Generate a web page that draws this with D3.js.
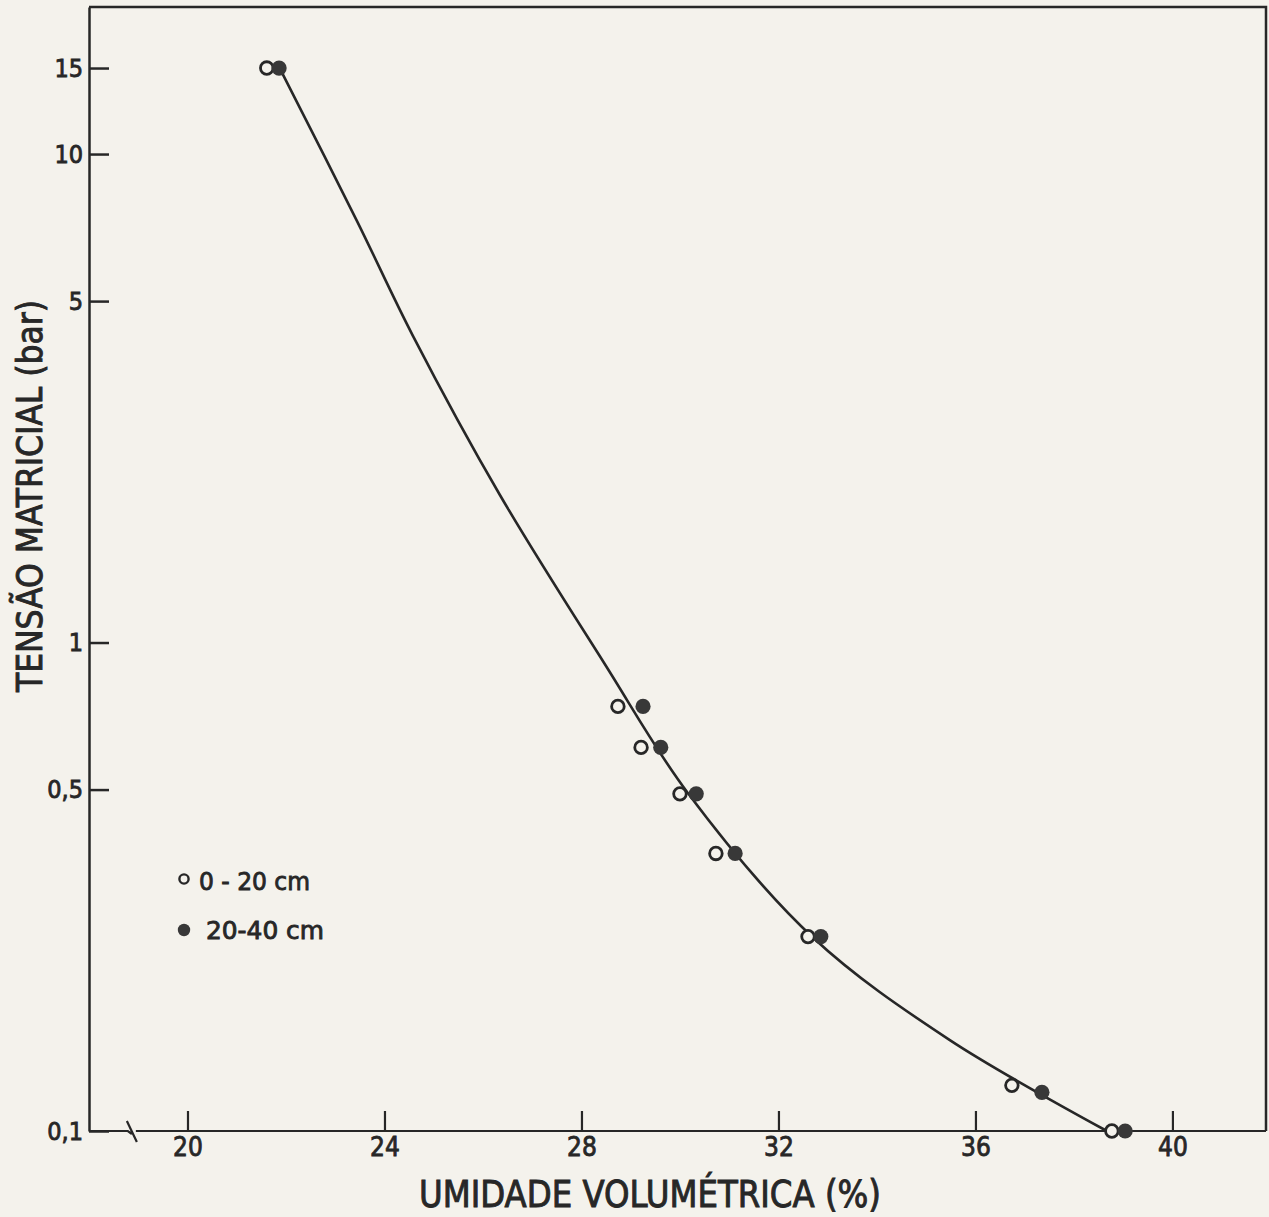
<!DOCTYPE html>
<html>
<head>
<meta charset="utf-8">
<script src="https://cdn.jsdelivr.net/npm/d3@7"></script>
<style>
  html, body { margin: 0; padding: 0; background: #f4f2ec; }
  svg { display: block; }
</style>
</head>
<body>
<div id="chart"></div>
<script>
// 0-20 cm (open circles)
const moisture020 = [21.61, 28.74, 29.21, 30.0, 30.73, 32.6, 36.74, 38.77];
const tension020 = [15, 0.74, 0.61, 0.49, 0.37, 0.25, 0.124, 0.1];
// 20-40 cm (filled circles)
const moisture2040 = [21.86, 29.25, 29.61, 30.33, 31.12, 32.86, 37.35, 39.04];
const tension2040 = [15, 0.74, 0.61, 0.49, 0.37, 0.25, 0.12, 0.1];
// hand-drawn curve
const curveMoisture = [21.9, 23.44, 24.58, 26.35, 28.46, 30.16, 32.7, 35.48, 38.67];
const curveTension = [14.8, 7.3, 4.24, 2.0, 0.908, 0.492, 0.249, 0.1535, 0.1];

const xTicks = [20, 24, 28, 32, 36, 40];
const yTicks = [15, 10, 5, 1, 0.5, 0.1];
const yTickLabels = ['15', '10', '5', '1', '0,5', '0,1'];
const seriesLabels = ['0 - 20 cm', '20-40 cm'];

const width = 1269;
const height = 1217;
const margin = { top: 7, right: 3, bottom: 86, left: 89 };
const ink = '#272727';
const paper = '#f4f2ec';
const font = '"DejaVu Sans Condensed", "DejaVu Sans", sans-serif';

const svg = d3.select('#chart')
  .append('svg')
  .attr('width', width)
  .attr('height', height)
  .attr('viewBox', `0 0 ${width} ${height}`);

svg.append('rect').attr('width', width).attr('height', height).attr('fill', paper);

const innerWidth = width - margin.left - margin.right;
const innerHeight = height - margin.top - margin.bottom;

const x = d3.scaleLinear().domain([18, 41.9]).range([0, innerWidth]);
const y = d3.scaleLog().domain([0.1, 20]).range([innerHeight, 0]);

const g = svg.append('g').attr('transform', `translate(${margin.left}, ${margin.top})`);

// frame top + right
g.append('path')
  .attr('d', `M0,0H${innerWidth}V${innerHeight}`)
  .attr('fill', 'none')
  .attr('stroke', ink)
  .attr('stroke-width', 2.5);

// x axis line with break
const bx = x(18.85);
g.append('path')
  .attr('d', `M0,${innerHeight}H${bx - 3}L${bx + 1},${innerHeight + 3}M${bx - 4},${innerHeight - 10}L${bx + 6},${innerHeight + 11}M${bx + 5},${innerHeight}H${innerWidth}`)
  .attr('fill', 'none')
  .attr('stroke', ink)
  .attr('stroke-width', 2.2);

const yAxis = g.append('g')
  .call(d3.axisLeft(y)
    .tickValues(yTicks)
    .tickFormat((d, i) => yTickLabels[i])
    .tickSizeInner(-20)
    .tickSizeOuter(0)
    .tickPadding(6));
yAxis.select('.domain').attr('stroke', ink).attr('stroke-width', 2.5);
yAxis.selectAll('line').attr('stroke', ink).attr('stroke-width', 2.5);
yAxis.selectAll('text')
  .attr('font-size', 25)
  .attr('font-family', font)
  .attr('fill', ink)
  .attr('stroke', ink)
  .attr('stroke-width', 0.8);

const xAxis = g.append('g')
  .attr('transform', `translate(0, ${innerHeight})`)
  .call(d3.axisBottom(x)
    .tickValues(xTicks)
    .tickSizeInner(-20)
    .tickSizeOuter(0)
    .tickPadding(7));
xAxis.select('.domain').remove();
xAxis.selectAll('line').attr('stroke', ink).attr('stroke-width', 2.2);
xAxis.selectAll('text')
  .attr('font-size', 26)
  .attr('font-family', font)
  .attr('fill', ink)
  .attr('stroke', ink)
  .attr('stroke-width', 0.8);

// curve
const curveData = curveMoisture.map((m, i) => ({ m, t: curveTension[i] }));
g.append('path')
  .datum(curveData)
  .attr('fill', 'none')
  .attr('stroke', ink)
  .attr('stroke-width', 2.6)
  .attr('d', d3.line().x(d => x(d.m)).y(d => y(d.t)).curve(d3.curveCatmullRom.alpha(0.5)));

// points
const open = moisture020.map((m, i) => ({ m, t: tension020[i] }));
const filled = moisture2040.map((m, i) => ({ m, t: tension2040[i] }));

g.selectAll('circle.open')
  .data(open)
  .join('circle')
  .attr('class', 'open')
  .attr('cx', d => x(d.m))
  .attr('cy', d => y(d.t))
  .attr('r', 6.3)
  .attr('fill', paper)
  .attr('stroke', ink)
  .attr('stroke-width', 2.8);

g.selectAll('circle.filled')
  .data(filled)
  .join('circle')
  .attr('class', 'filled')
  .attr('cx', d => x(d.m))
  .attr('cy', d => y(d.t))
  .attr('r', 7.6)
  .attr('fill', '#383838');

// legend
const legend = svg.append('g').attr('font-family', font).attr('fill', ink);
legend.append('circle')
  .attr('cx', 184).attr('cy', 879).attr('r', 4.6)
  .attr('fill', paper).attr('stroke', ink).attr('stroke-width', 2.4);
legend.append('text')
  .attr('x', 199).attr('y', 890)
  .attr('font-size', 25)
  .attr('stroke', ink)
  .attr('stroke-width', 0.8)
  .attr('textLength', 111)
  .attr('lengthAdjust', 'spacingAndGlyphs')
  .text(seriesLabels[0]);
legend.append('circle')
  .attr('cx', 184).attr('cy', 930).attr('r', 6.2)
  .attr('fill', '#383838');
legend.append('text')
  .attr('x', 206).attr('y', 939)
  .attr('font-size', 25)
  .attr('stroke', ink)
  .attr('stroke-width', 0.8)
  .attr('textLength', 118)
  .attr('lengthAdjust', 'spacingAndGlyphs')
  .text(seriesLabels[1]);

// axis titles
svg.append('text')
  .attr('x', 650)
  .attr('y', 1207)
  .attr('text-anchor', 'middle')
  .attr('font-family', font)
  .attr('font-size', 37)
  .attr('fill', ink)
  .attr('stroke', ink)
  .attr('stroke-width', 0.9)
  .attr('textLength', 462)
  .attr('lengthAdjust', 'spacingAndGlyphs')
  .text('UMIDADE VOLUMÉTRICA (%)');

svg.append('text')
  .attr('transform', 'translate(42, 496) rotate(-90)')
  .attr('text-anchor', 'middle')
  .attr('font-family', font)
  .attr('font-size', 36)
  .attr('fill', ink)
  .attr('stroke', ink)
  .attr('stroke-width', 0.9)
  .attr('textLength', 392)
  .attr('lengthAdjust', 'spacingAndGlyphs')
  .text('TENSÃO MATRICIAL (bar)');
</script>
</body>
</html>
